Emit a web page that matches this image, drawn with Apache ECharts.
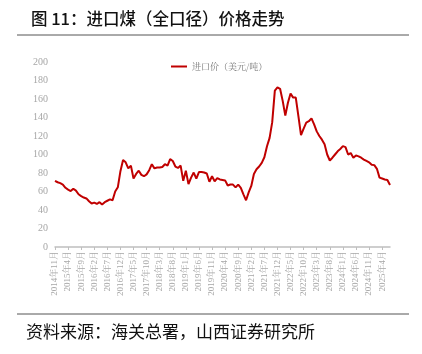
<!DOCTYPE html>
<html><head><meta charset="utf-8">
<script src="https://cdn.jsdelivr.net/npm/echarts@6/dist/echarts.min.js"></script>
<style>html,body{margin:0;padding:0;background:#fff}#c{width:422px;height:354px}</style>
</head><body><div id="c"></div>
<script>
var startYear = 2014, startMonth = 11;
var seriesName = '进口价（美元/吨）';
var prices = [71.5,70,69,67.5,64,62,60.5,63,61,57,55,53.5,52.5,49.5,47,48,46.5,48.5,46,48.5,
50,51.5,50.5,60,64.5,82,94,91.5,85,88,74,79,82.5,78,76.5,78.5,83,89.5,85,86,
86,86.5,89.5,88,95,93,87,85.5,88,71.5,82.5,68,75,80.5,74,81,81,80.5,79.5,70.5,
76.5,71,74.5,73,72.5,72,66.5,67.5,67.5,64.5,67.5,64,57,50.5,59,66,79,84,87,91,
97,109,118,135,169,172.5,171,158,142,156,166,161.5,161.5,141.5,121,128,134.5,136,139,132.5,
125,120,116,111,100,93.5,96.5,100,103.5,106,109,108,100,101.5,96.5,99,98,96.5,94.5,93,
91.5,89,88.5,84.5,75,74,73,72.5,67];
var months = [];
for (var i = 0; i < prices.length; i++) {
  var m = startMonth - 1 + i;
  months.push((startYear + Math.floor(m / 12)) + '年' + (m % 12 + 1) + '月');
}
var yTicks = {min: 0, max: 200, interval: 20};
var chart = echarts.init(document.getElementById('c'));
chart.setOption({
  animation: false,
  title: {text: '图 11：进口煤（全口径）价格走势', left: 26, top: 5,
    textStyle: {fontFamily: '"Noto Sans CJK SC"', fontSize: 16.5, fontWeight: 500, color: '#111'}},
  graphic: [
    {type: 'line', shape: {x1: 17, y1: 35, x2: 409, y2: 35}, style: {stroke: '#555', lineWidth: 1}},
    {type: 'line', shape: {x1: 17, y1: 314, x2: 409, y2: 314}, style: {stroke: '#555', lineWidth: 1}},
    {type: 'text', left: 26, top: 323, style: {text: '资料来源：海关总署，山西证券研究所',
      font: '17px "Noto Sans CJK SC"', fill: '#111'}}
  ],
  legend: {top: 57, left: 166, itemWidth: 16, itemHeight: 2, itemGap: 3,
    icon: 'rect', textStyle: {fontFamily: '"Noto Serif CJK SC","Noto Sans CJK SC"', fontSize: 9, color: '#777'},
    data: [seriesName]},
  grid: {left: 55, right: 32, top: 62, bottom: 107, containLabel: false},
  xAxis: {type: 'category', data: months, boundaryGap: false,
    axisLine: {lineStyle: {color: '#bfbfbf', width: 1.5}},
    axisTick: {show: true, interval: 4, length: 3, lineStyle: {color: '#bfbfbf'}},
    axisLabel: {interval: 4, rotate: 90, fontSize: 9, color: '#a6a6a6', margin: 4,
      fontFamily: '"Liberation Serif","Noto Serif CJK SC"'}},
  yAxis: {type: 'value', min: yTicks.min, max: yTicks.max, interval: yTicks.interval,
    axisLine: {show: false}, axisTick: {show: false}, splitLine: {show: false},
    axisLabel: {fontSize: 10, color: '#a6a6a6', margin: 7, fontFamily: '"Liberation Serif"'}},
  series: [{name: seriesName, type: 'line', data: prices, symbol: 'none',
    lineStyle: {color: '#c00000', width: 2}, itemStyle: {color: '#c00000'}}]
});
</script></body></html>
